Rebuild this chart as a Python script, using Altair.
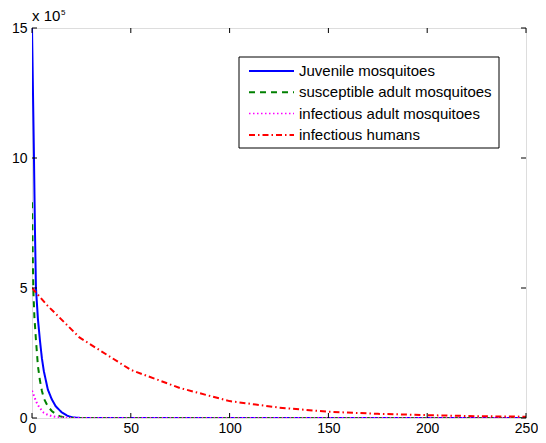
import altair as alt
import pandas as pd

# ---- data (values in units of 1e5) ----
series_names = ["Juvenile mosquitoes", "susceptible adult mosquitoes",
                "infectious adult mosquitoes", "infectious humans"]

juv_t = [0, 0.25, 0.5, 1, 1.5, 2, 3, 4, 5, 6, 8, 10, 12, 15, 18, 21, 25, 50, 100, 150, 200, 250]
juv_v = [15, 13.8, 12.5, 10, 7.2, 5.0, 3.8, 3.0, 2.3, 1.8, 1.1, 0.72, 0.45, 0.22, 0.08, 0.02, 0, 0, 0, 0, 0, 0]

sus_t = [0, 0.3, 0.7, 1.2, 2, 3, 4, 5, 6, 8, 10, 12, 14, 16, 18, 50, 100, 150, 200, 250]
sus_v = [8.3, 6.6, 4.9, 3.9, 3.0, 2.0, 1.45, 1.05, 0.75, 0.45, 0.27, 0.15, 0.07, 0.03, 0, 0, 0, 0, 0, 0]

inf_t = [0, 1, 2, 3, 4, 6, 8, 10, 13, 16, 20, 50, 100, 150, 200, 250]
inf_v = [1.05, 0.85, 0.65, 0.5, 0.38, 0.2, 0.12, 0.07, 0.03, 0.01, 0, 0, 0, 0, 0, 0]

hum_t = [0, 7.5, 24, 50, 75, 100, 125, 150, 175, 200, 225, 250]
hum_v = [5.0, 4.35, 3.1, 1.85, 1.15, 0.65, 0.4, 0.24, 0.16, 0.11, 0.07, 0.05]

x_ticks = [0, 50, 100, 150, 200, 250]
y_ticks = [0, 5, 10, 15]

# ---- styles ----
colors = ["#0000ff", "#008000", "#ff00ff", "#ff0000"]
dashes = [[1, 0], [6, 5], [1.5, 2.5], [6, 3, 1.5, 3]]
widths = [2, 2, 1.5, 2]
FONT = "Liberation Sans"
W, H = 494, 390

rows = []
for name, ts, vs in [(series_names[0], juv_t, juv_v), (series_names[1], sus_t, sus_v),
                     (series_names[2], inf_t, inf_v), (series_names[3], hum_t, hum_v)]:
    for t, v in zip(ts, vs):
        rows.append({"t": t, "v": v, "series": name})
df = pd.DataFrame(rows)

xscale = alt.Scale(domain=[0, 250], nice=False, zero=False)
yscale = alt.Scale(domain=[0, 15], nice=False, zero=False)
xaxis = alt.Axis(values=x_ticks, tickSize=0, domain=False, grid=False,
                 labelFontSize=14, labelFont=FONT, labelColor="black",
                 labelPadding=3, labelFlush=False, labelOverlap=False)
yaxis = alt.Axis(values=y_ticks, tickSize=0, domain=False, grid=False,
                 labelFontSize=14, labelFont=FONT, labelColor="black",
                 labelPadding=5, labelFlush=False, labelOverlap=False)
X = alt.X("t:Q", scale=xscale, title=None, axis=xaxis)
Y = alt.Y("v:Q", scale=yscale, title=None, axis=yaxis)

lines = alt.Chart(df).mark_line(clip=True).encode(
    x=X, y=Y,
    color=alt.Color("series:N", scale=alt.Scale(domain=series_names, range=colors), legend=None),
    strokeDash=alt.StrokeDash("series:N", scale=alt.Scale(domain=series_names, range=dashes), legend=None),
    strokeWidth=alt.StrokeWidth("series:N", scale=alt.Scale(domain=series_names, range=widths), legend=None),
)

xt = pd.DataFrame({"t": x_ticks})
yt = pd.DataFrame({"v": y_ticks})
tick_style = dict(color="black", strokeWidth=1)
xt_bot = alt.Chart(xt).mark_rule(**tick_style).encode(
    x=X, y=alt.value(H), y2=alt.value(H - 5))
xt_top = alt.Chart(xt).mark_rule(**tick_style).encode(
    x=X, y=alt.value(0), y2=alt.value(5))
yt_left = alt.Chart(yt).mark_rule(**tick_style).encode(
    y=Y, x=alt.value(0), x2=alt.value(5))
yt_right = alt.Chart(yt).mark_rule(**tick_style).encode(
    y=Y, x=alt.value(W), x2=alt.value(W - 5))

mult = alt.Chart(pd.DataFrame({"s": ["x 10"]})).mark_text(
    align="left", baseline="alphabetic", font=FONT, fontSize=15, color="black"
).encode(text="s:N", x=alt.value(0), y=alt.value(-7))
mult_exp = alt.Chart(pd.DataFrame({"s": ["5"]})).mark_text(
    align="left", baseline="alphabetic", font=FONT, fontSize=8, color="black"
).encode(text="s:N", x=alt.value(29), y=alt.value(-13))

# ---- legend (drawn manually) ----
LX0, LX1, LY0, LY1 = 207, 467, 29, 120
legend_layers = [
    alt.Chart(pd.DataFrame({"a": [0]})).mark_rect(fill="white", stroke="black", strokeWidth=1).encode(
        x=alt.value(LX0), x2=alt.value(LX1), y=alt.value(LY0), y2=alt.value(LY1))
]
for i, name in enumerate(series_names):
    yy = 43 + i * 21.3
    legend_layers.append(
        alt.Chart(pd.DataFrame({"a": [0]})).mark_rule(
            color=colors[i], strokeDash=dashes[i], strokeWidth=widths[i]
        ).encode(x=alt.value(217), x2=alt.value(262), y=alt.value(yy))
    )
    legend_layers.append(
        alt.Chart(pd.DataFrame({"s": [name]})).mark_text(
            align="left", baseline="middle", font=FONT, fontSize=15, color="black"
        ).encode(text="s:N", x=alt.value(267), y=alt.value(yy))
    )

chart = alt.layer(
    lines, xt_bot, xt_top, yt_left, yt_right, mult, mult_exp, *legend_layers
).properties(
    width=W, height=H,
    autosize=alt.AutoSizeParams(type="none"),
    padding={"left": 24, "top": 20, "right": 12, "bottom": 17},
).configure_view(stroke="black", strokeWidth=1).configure(background="white")

chart.save("out.html", embed_options={"renderer": "svg", "actions": False})
